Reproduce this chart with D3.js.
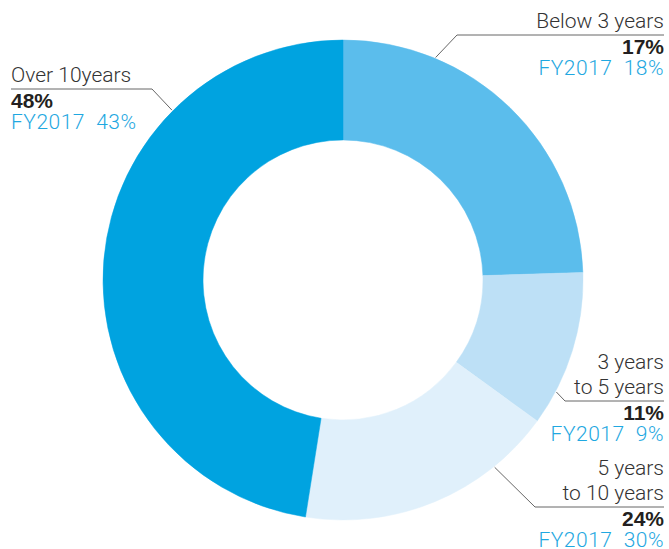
<!DOCTYPE html>
<meta charset="utf-8">
<style>
  body { margin: 0; background: #fff; }
  .lbl { font-family: Roboto, "Liberation Sans", Arial, sans-serif; font-weight: 300; font-size: 21px; fill: #333; }
  .pct { font-family: "Liberation Sans", Arial, sans-serif; font-size: 21px; font-weight: bold; fill: #231f20; }
  .prev { font-family: Roboto, "Liberation Sans", Arial, sans-serif; font-weight: 300; font-size: 21px; letter-spacing: 0.5px; fill: #1fa8e1; }
  .leader { fill: none; stroke: #666; stroke-width: 1px; }
</style>
<svg width="669" height="549"></svg>
<script src="https://cdnjs.cloudflare.com/ajax/libs/d3/7.8.5/d3.min.js"></script>
<script>

// categories, in drawing order (clockwise from 12 o'clock)
var categories = ["Below 3 years", "3 years to 5 years", "5 years to 10 years", "Over 10years"];
// share of the ring each slice takes in the picture
var arcShare = [24.5, 10.5, 17.5, 47.5];
// printed labels
var labelLines = [["Below 3 years"], ["3 years", "to 5 years"], ["5 years", "to 10 years"], ["Over 10years"]];
var currentPct = ["17%", "11%", "24%", "48%"];
var prevPct = ["18%", "9%", "30%", "43%"];
var prevYear = "FY2017";

var colors = ["#5bbdec", "#bde0f6", "#e0f0fb", "#00a3e0"];

var svg = d3.select("svg"),
    cx = 343, cy = 280,
    outerR = 240, innerR = 140;

var data = categories.map(function(c, i) {
  return {name: c, value: arcShare[i], lines: labelLines[i], pct: currentPct[i], prev: prevPct[i]};
});

var pie = d3.pie().sort(null).value(function(d) { return d.value; });
var arc = d3.arc().innerRadius(innerR).outerRadius(outerR);

var g = svg.append("g").attr("transform", "translate(" + cx + "," + cy + ")");

g.selectAll("path.slice")
  .data(pie(data))
  .enter().append("path")
  .attr("class", "slice")
  .attr("d", arc)
  .attr("fill", function(d, i) { return colors[i]; })
  .attr("stroke", function(d, i) { return colors[i]; })
  .attr("stroke-width", 0.5);

// label layout: angle (deg from top) where the leader touches the ring,
// elbow point, end x of the horizontal rule, text side
var layout = [
  {angle: 22.6, elbow: [457, 35], endX: 664, anchor: "end"},
  {angle: 117.7, elbow: [565, 401], endX: 664, anchor: "end"},
  {angle: 141, elbow: [535, 507], endX: 664, anchor: "end"},
  {angle: 314.8, elbow: [152, 89], endX: 11, anchor: "start"}
];

data.forEach(function(d, i) {
  var L = layout[i],
      a = L.angle * Math.PI / 180,
      p0 = [cx + Math.sin(a) * (outerR + 1), cy - Math.cos(a) * (outerR + 1)];

  svg.append("path")
    .attr("class", "leader")
    .attr("d", d3.line()([p0, L.elbow, [L.endX, L.elbow[1]]]));

  var tx = L.endX,
      ruleY = L.elbow[1];

  // name lines above the rule
  var n = d.lines.length;
  d.lines.forEach(function(t, k) {
    svg.append("text")
      .attr("class", "lbl")
      .attr("x", tx)
      .attr("y", ruleY - 7 - (n - 1 - k) * 25)
      .attr("text-anchor", L.anchor)
      .text(t);
  });

  svg.append("text")
    .attr("class", "pct")
    .attr("x", tx)
    .attr("y", ruleY + 19)
    .attr("text-anchor", L.anchor)
    .text(d.pct);

  svg.append("text")
    .attr("class", "prev")
    .attr("x", tx)
    .attr("y", ruleY + 40)
    .attr("text-anchor", L.anchor)
    .attr("xml:space", "preserve")
    .style("white-space", "pre")
    .text(prevYear + "  " + d.prev);
});

</script>
